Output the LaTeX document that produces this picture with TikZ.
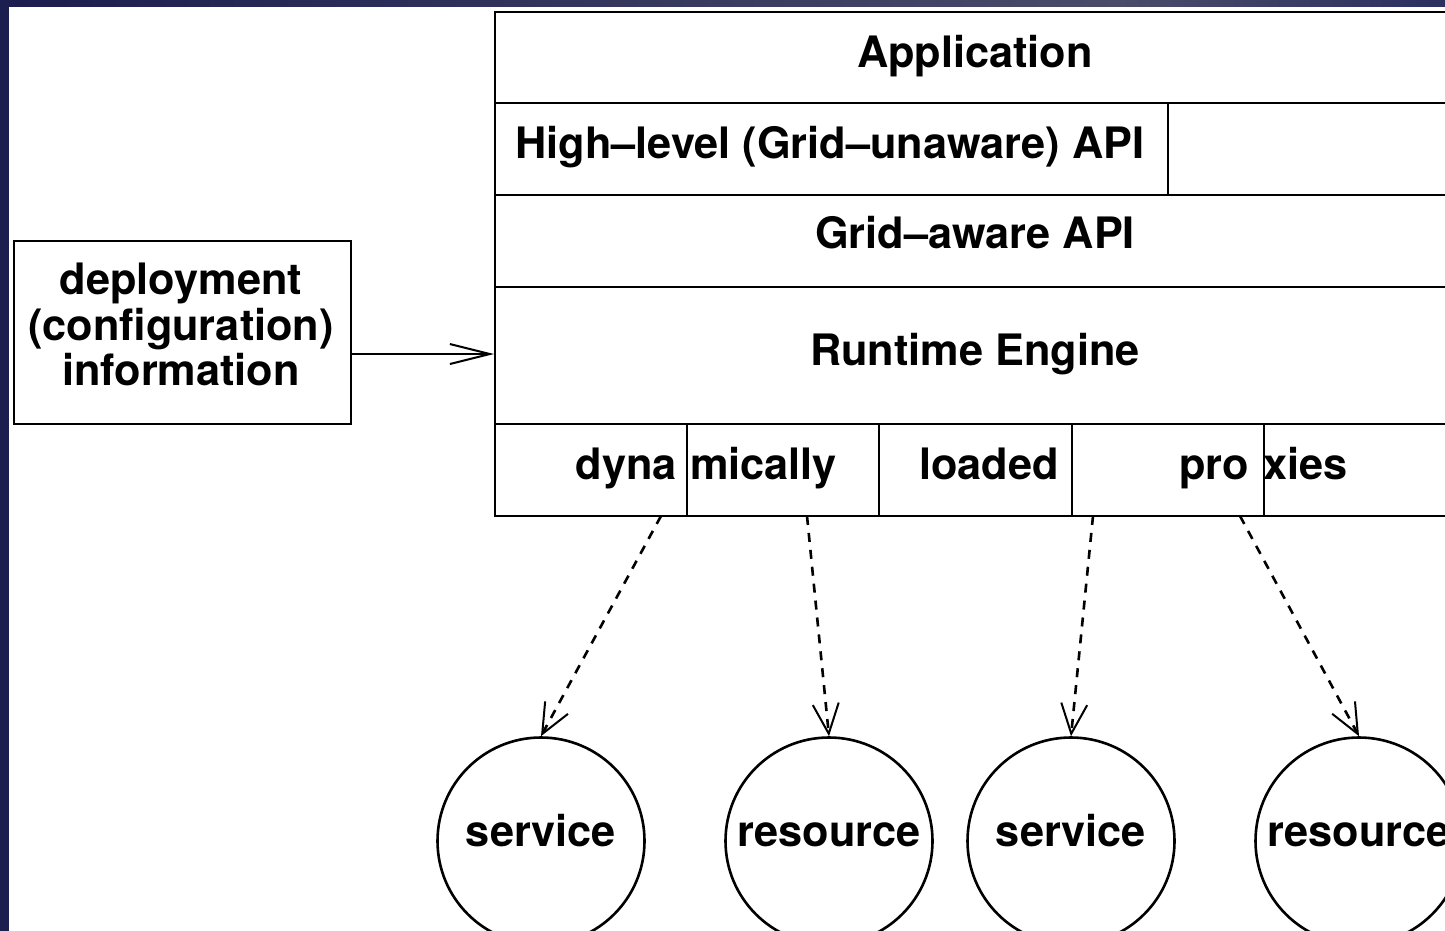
\documentclass[tikz,border=0pt]{standalone}
\usepackage{fontspec}
\setmainfont{TeX Gyre Heros}
\usetikzlibrary{arrows.meta}
\definecolor{frameblue}{HTML}{1B1E4E}
\definecolor{framegrey}{HTML}{4A4C6A}
\definecolor{frameend}{HTML}{2C305E}
\begin{document}
\begin{tikzpicture}[x=1pt, y=-1pt,
  lbl/.style={font=\fontsize{43.3}{46}\selectfont\bfseries, inner sep=0, anchor=base},
  layer/.style={draw, line width=2pt, rectangle, inner sep=0, anchor=north west},
  orb/.style={draw, line width=2.6pt, circle, inner sep=0, minimum size=207pt},
  link/.style={line width=2.6pt, dash pattern=on 9pt off 8pt,
    -{Straight Barb[length=30pt, width=26pt, line width=2pt]}},
  feed/.style={line width=2pt, -{Straight Barb[length=40pt, width=20pt, line width=2pt]}}]
\useasboundingbox (0,0) rectangle (1445,931);
\clip (0,0) rectangle (1445,931);

% slide frame
\fill[frameblue] (0,0) rectangle (1445,931);
\shade[left color=frameblue, right color=framegrey] (9,0) rectangle (1120,7.5);
\shade[left color=framegrey, right color=frameend] (1120,0) rectangle (1445,7.5);
\fill[white] (9,7.5) rectangle (1445,931);

% layer stack
\node[layer, minimum width=962pt, minimum height=91pt] (app) at (494,11) {};
\node[layer, minimum width=962pt, minimum height=92pt] (aware) at (494,194) {};
\node[layer, minimum width=673pt, minimum height=92pt] (high) at (494,102) {};
\node[layer, minimum width=962pt, minimum height=137pt] (rte) at (494,286) {};
\node[layer, minimum width=192pt, minimum height=92pt] (p1) at (494,423) {};
\node[layer, minimum width=192pt, minimum height=92pt] (p2) at (686,423) {};
\node[layer, minimum width=193pt, minimum height=92pt] (p3) at (878,423) {};
\node[layer, minimum width=192pt, minimum height=92pt] (p4) at (1071,423) {};
\node[layer, minimum width=193pt, minimum height=92pt] (p5) at (1263,423) {};

\node[lbl] (appt) at (975,68) {Application};
\node[lbl] (hight) at (830,158) {High\textendash level (Grid\textendash unaware) API};
\node[lbl] (awaret) at (975,248) {Grid\textendash aware API};
\node[lbl] (rtet) at (975,365) {Runtime Engine};
\node[lbl, anchor=base east] (t1) at (677,479) {dyna};
\node[lbl, anchor=base west] (t2) at (690,479) {mically};
\node[lbl] (t3) at (989,479) {loaded};
\node[lbl, anchor=base east] (t4) at (1249,479) {pro};
\node[lbl, anchor=base west] (t5) at (1263,479) {xies};

% deployment information
\node[layer, minimum width=337pt, minimum height=183pt] (dep) at (13,240) {};
\node[lbl] (dep1) at (181,294) {deployment};
\node[lbl] (dep2) at (181,340) {(configuration)};
\node[lbl] (dep3) at (181,385) {information};
\coordinate (depout) at (350,354);
\coordinate (rtein) at (494,354);
\draw[feed] (depout) -- (rtein);

% services and resources
\node[orb] (s1) at (541,841) {};
\node[orb] (r1) at (829,841) {};
\node[orb] (s2) at (1071,841) {};
\node[orb] (r2) at (1359,841) {};
\node[lbl] (s1t) at (541,846) {service};
\node[lbl] (r1t) at (829,846) {resource};
\node[lbl] (s2t) at (1071,846) {service};
\node[lbl] (r2t) at (1359,846) {resource};

\coordinate (o1) at (661,516);
\coordinate (o2) at (807,516);
\coordinate (o3) at (1093,516);
\coordinate (o4) at (1240,516);
\draw[link] (o1) -- (s1.north);
\draw[link] (o2) -- (r1.north);
\draw[link] (o3) -- (s2.north);
\draw[link] (o4) -- (r2.north);
\end{tikzpicture}
\end{document}
